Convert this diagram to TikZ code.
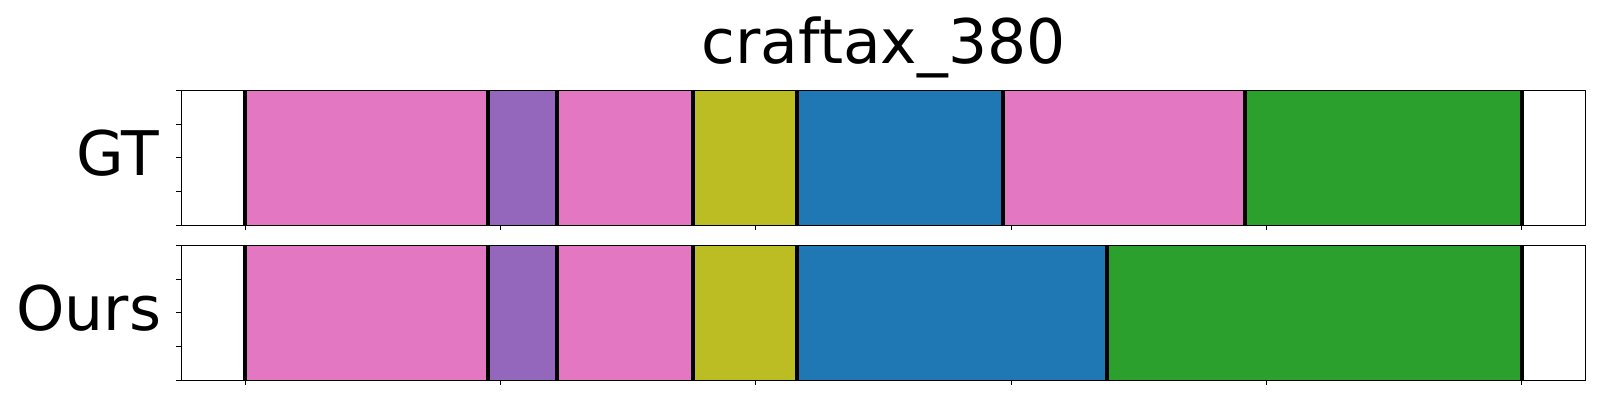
\documentclass[tikz,border=0pt]{standalone}
\usepackage{fontspec}
\setmainfont{DejaVu Sans}
\usepackage{xcolor}
\usepackage{tikz}

\definecolor{tabpink}{HTML}{E377C2}
\definecolor{tabpurple}{HTML}{9467BD}
\definecolor{tabolive}{HTML}{BCBD22}
\definecolor{tabblue}{HTML}{1F77B4}
\definecolor{tabgreen}{HTML}{2CA02C}

\begin{document}
\begin{tikzpicture}[x=0.1mm, y=-0.1mm,
        seg/.style={line width=0.4mm, black},
        frame/.style={line width=0.11mm, black},
        lbl/.style={font=\fontsize{17.5pt}{21pt}\selectfont, inner sep=0pt}]
    \useasboundingbox (0,0) rectangle (1600,400);

    \node (title) at (883.5, 63.3) [lbl, anchor=base] {craftax\_380};
    \node (gt) at (160, 175) [lbl, anchor=base east] {GT};
    \node (ours) at (162, 330) [lbl, anchor=base east] {Ours};

    \begin{scope}[shift={(245.3,0)}, x=0.25527mm]
        % GT row
        \fill[tabpink] (0,90.5) rectangle (95,225.3);
        \fill[tabpurple] (95,90.5) rectangle (122,225.3);
        \fill[tabpink] (122,90.5) rectangle (175.5,225.3);
        \fill[tabolive] (175.5,90.5) rectangle (216,225.3);
        \fill[tabblue] (216,90.5) rectangle (297,225.3);
        \fill[tabpink] (297,90.5) rectangle (391.5,225.3);
        \fill[tabgreen] (391.5,90.5) rectangle (500,225.3);
        \draw[seg] (0,90.5) -- (0,225.3) (95,90.5) -- (95,225.3) (122,90.5) -- (122,225.3)
            (175.5,90.5) -- (175.5,225.3) (216,90.5) -- (216,225.3) (297,90.5) -- (297,225.3)
            (391.5,90.5) -- (391.5,225.3) (500,90.5) -- (500,225.3);
        \draw[frame] (-25,90.5) rectangle (525,225.3);
        \draw[frame] (-25,90.5) -- (-27,90.5) (-25,124.2) -- (-27,124.2) (-25,157.9) -- (-27,157.9)
            (-25,191.6) -- (-27,191.6) (-25,225.3) -- (-27,225.3);
        \draw[frame] (0,225.3) -- (0,230.3) (100,225.3) -- (100,230.3) (200,225.3) -- (200,230.3)
            (300,225.3) -- (300,230.3) (400,225.3) -- (400,230.3) (500,225.3) -- (500,230.3);

        % Ours row
        \fill[tabpink] (0,245.5) rectangle (95,380.3);
        \fill[tabpurple] (95,245.5) rectangle (122,380.3);
        \fill[tabpink] (122,245.5) rectangle (175.5,380.3);
        \fill[tabolive] (175.5,245.5) rectangle (216,380.3);
        \fill[tabblue] (216,245.5) rectangle (337.5,380.3);
        \fill[tabgreen] (337.5,245.5) rectangle (500,380.3);
        \draw[seg] (0,245.5) -- (0,380.3) (95,245.5) -- (95,380.3) (122,245.5) -- (122,380.3)
            (175.5,245.5) -- (175.5,380.3) (216,245.5) -- (216,380.3) (337.5,245.5) -- (337.5,380.3)
            (500,245.5) -- (500,380.3);
        \draw[frame] (-25,245.5) rectangle (525,380.3);
        \draw[frame] (-25,245.5) -- (-27,245.5) (-25,279.2) -- (-27,279.2) (-25,312.9) -- (-27,312.9)
            (-25,346.6) -- (-27,346.6) (-25,380.3) -- (-27,380.3);
        \draw[frame] (0,380.3) -- (0,385.3) (100,380.3) -- (100,385.3) (200,380.3) -- (200,385.3)
            (300,380.3) -- (300,385.3) (400,380.3) -- (400,385.3) (500,380.3) -- (500,385.3);
    \end{scope}
\end{tikzpicture}
\end{document}
